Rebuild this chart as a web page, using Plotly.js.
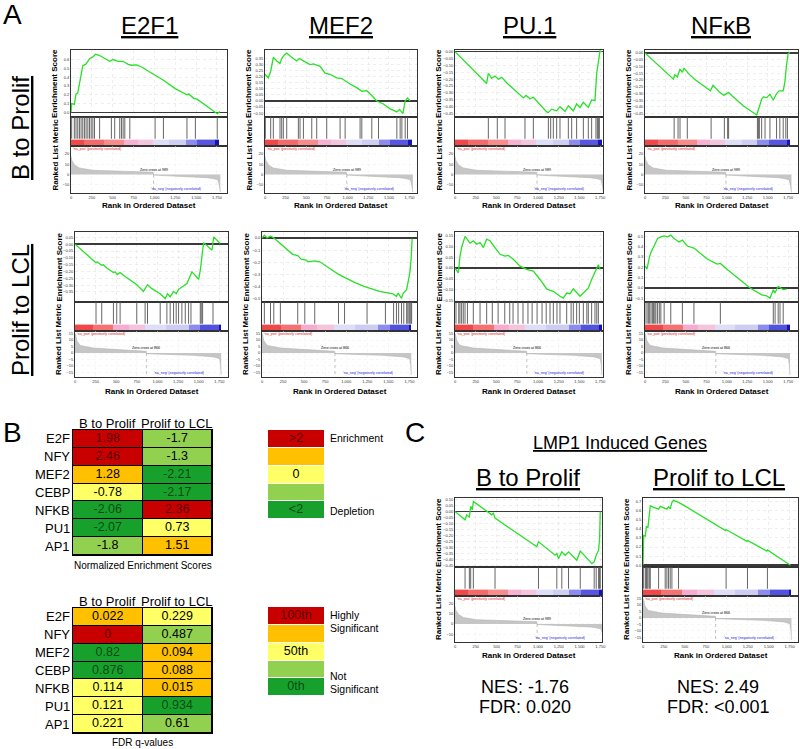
<!DOCTYPE html>
<html><head><meta charset="utf-8">
<script src="https://cdn.plot.ly/plotly-3.0.1.min.js"></script>
<style>html,body{margin:0;padding:0;background:#fff}#chart{width:800px;height:749px}</style>
</head><body><div id="chart"></div>
<script>
// ================= DATA =================
const rankTicks = [0, 250, 500, 750, 1000, 1250, 1500, 1750];

// Ranked list metric (B to Prolif list / Prolif to LCL list)
const metricBP_x = [0, 8, 40, 100, 262, 665, 985, 990, 1200, 1500, 1630, 1700, 1760, 1775, 1790];
const metricBP_y = [17.5, 14, 9.5, 6.3, 4.1, 2.9, 2.2, -0.5, -1.2, -2.0, -3.0, -3.8, -5, -9, -17];
const metricBP_ticks = [20, 10, 0, -10];
const zeroCrossBP = 989;
const metricPL_x = [0, 8, 20, 61, 223, 628, 864, 866, 1100, 1438, 1681, 1754, 1765, 1772];
const metricPL_y = [15, 14, 9.7, 5.9, 3.8, 2.0, 1.3, -0.5, -1.0, -1.8, -3.0, -4.4, -9, -17];
const metricPL_ticks = [15, 10, 5, 0, -5, -10, -15];
const zeroCrossPL = 866;

// Colour bar blocks of the ranked lists
const colorbarBP_edges = [0, 160, 400, 641, 800, 978, 1180, 1374, 1512, 1730, 1775];
const colorbarBP_colors = ['#f04848','#f46a6a','#f78c8c','#f6b2d2','#f4c6de','#dedef7','#cfcff4','#8c8cee','#5656e2','#1414b4'];
const colorbarPL_edges = [0, 220, 466, 650, 850, 1100, 1377, 1519, 1741, 1772];
const colorbarPL_colors = ['#f04848','#f57272','#f6acce','#f4c4dc','#dedef7','#cdcdf4','#8c8cee','#5252e0','#1414b4'];

// Running enrichment scores and hits
const es_E2F1_BP_x = [0,8,40,60,81,101,121,141,181,222,262,294,343,403,463,504,564,625,685,725,786,846,1008,1108,1249,1390,1410,1471,1511,1753,1785];
const es_E2F1_BP_y = [0,0.10,0.09,0.21,0.22,0.33,0.40,0.53,0.55,0.61,0.63,0.66,0.645,0.61,0.58,0.60,0.58,0.58,0.545,0.535,0.54,0.515,0.42,0.365,0.27,0.20,0.21,0.16,0.15,-0.015,0.01];
const hits_E2F1_BP = [8,40,60,81,101,121,141,161,181,202,222,242,262,282,343,484,524,584,605,625,645,705,1008,1108,1390,1491,1753];

const es_MEF2_BP_x = [0,40,69,101,141,182,202,234,263,303,384,416,465,545,586,667,727,788,869,929,1030,1111,1172,1232,1293,1353,1434,1515,1596,1628,1669,1697,1725,1757];
const es_MEF2_BP_y = [0.22,0.19,0.245,0.36,0.33,0.31,0.35,0.38,0.395,0.37,0.33,0.35,0.33,0.30,0.305,0.285,0.23,0.22,0.19,0.185,0.14,0.11,0.08,0.085,0.045,0.0,-0.025,-0.065,-0.09,-0.07,-0.105,0.0,0.025,0.0];
const hits_MEF2_BP = [4,69,101,182,202,222,263,404,424,465,566,626,747,909,970,1151,1172,1293,1374,1596,1636,1657,1697,1725];

const es_PU1_BP_x = [0,382,402,442,482,523,563,623,824,856,905,945,1106,1126,1166,1226,1266,1327,1367,1427,1467,1508,1548,1608,1648,1688,1709,1729,1749,1769];
const es_PU1_BP_y = [0,-0.231,-0.157,-0.194,-0.177,-0.201,-0.187,-0.226,-0.336,-0.318,-0.343,-0.331,-0.438,-0.443,-0.418,-0.43,-0.40,-0.435,-0.393,-0.43,-0.38,-0.405,-0.368,-0.405,-0.351,-0.356,-0.157,-0.057,0.005,0];
const hits_PU1_BP = [402,510,603,844,945,1126,1154,1186,1226,1266,1367,1407,1467,1548,1608,1648,1700,1717,1729,1741];

const es_NFKB_BP_x = [0,347,364,396,428,457,477,537,618,800,832,901,962,1022,1063,1204,1366,1386,1426,1446,1487,1527,1568,1608,1640,1689,1709,1729,1749,1770];
const es_NFKB_BP_y = [0,-0.194,-0.162,-0.177,-0.119,-0.144,-0.112,-0.157,-0.201,-0.281,-0.239,-0.286,-0.313,-0.294,-0.318,-0.393,-0.46,-0.425,-0.343,-0.326,-0.331,-0.306,-0.351,-0.301,-0.281,-0.281,-0.219,-0.095,-0.007,0.005];
const hits_NFKB_BP = [356,404,428,517,808,970,1010,1022,1374,1386,1398,1426,1467,1527,1608,1648,1689,1721,1741];

const es_E2F1_PL_x = [0,255,271,324,344,385,466,486,514,547,587,749,830,879,932,1033,1094,1122,1154,1195,1227,1256,1296,1357,1418,1499,1519,1559,1661,1681,1762];
const es_E2F1_PL_y = [0,-0.135,-0.13,-0.154,-0.15,-0.174,-0.208,-0.203,-0.223,-0.208,-0.228,-0.297,-0.346,-0.297,-0.326,-0.363,-0.40,-0.363,-0.387,-0.346,-0.363,-0.331,-0.314,-0.289,-0.203,-0.257,-0.191,0.012,-0.044,0.054,0.005];
const hits_E2F1_PL = [255,324,466,506,547,749,850,879,1033,1114,1154,1195,1227,1256,1296,1337,1377,1406,1519,1531,1547,1673];

const es_MEF2_PL_x = [0,28,61,101,141,364,424,465,525,545,626,687,848,909,1111,1212,1394,1555,1596,1616,1656,1677,1717,1735,1755,1770,1782];
const es_MEF2_PL_y = [0,0.023,0,0.017,0,-0.135,-0.146,-0.175,-0.183,-0.197,-0.189,-0.197,-0.273,-0.301,-0.372,-0.40,-0.442,-0.462,-0.485,-0.456,-0.499,-0.456,-0.428,-0.372,-0.287,-0.175,-0.006];
const hits_MEF2_PL = [28,101,140,218,424,508,626,908,980,1247,1465,1562,1596,1622,1656,1683,1717,1731,1745,1755,1767,1776];

const es_PU1_PL_x = [0,12,40,60,80,121,181,221,261,302,342,382,422,482,543,603,643,704,784,864,945,1025,1106,1146,1186,1266,1307,1347,1387,1427,1467,1508,1548,1608,1648,1688,1729,1749];
const es_PU1_PL_y = [0,-0.006,-0.022,0.055,0.094,0.145,0.114,0.125,0.109,0.117,0.094,0.132,0.125,0.094,0.063,0.055,0.058,0.04,0.009,-0.006,-0.014,-0.052,-0.095,-0.102,-0.106,-0.129,-0.137,-0.114,-0.117,-0.095,-0.114,-0.129,-0.114,-0.091,-0.052,-0.022,0.015,-0.006];
const hits_PU1_PL = [12,45,60,80,100,121,150,221,302,382,450,520,600,660,700,760,820,880,930,990,1050,1100,1146,1186,1230,1266,1347,1400,1427,1467,1500,1548,1590,1608,1648,1688,1710,1729];

const es_NFKB_PL_x = [0,24,53,73,105,133,154,194,234,275,315,356,416,457,517,598,659,760,881,921,1002,1164,1285,1426,1487,1527,1568,1588,1628,1689,1729];
const es_NFKB_PL_y = [0.214,0.181,0.296,0.345,0.395,0.444,0.477,0.493,0.503,0.493,0.51,0.477,0.444,0.461,0.405,0.385,0.345,0.28,0.23,0.237,0.181,0.082,0,-0.066,-0.076,-0.099,-0.016,-0.049,0.016,-0.016,-0.01];
const hits_NFKB_PL = [0,24,40,53,73,90,105,120,133,154,175,194,234,315,457,598,921,1568,1590,1628,1650,1689];

const es_LMP1_BP_x = [0,121,141,173,189,209,221,442,462,482,985,1005,1206,1226,1246,1286,1327,1367,1467,1508,1648,1676,1700,1729,1741,1749];
const es_LMP1_BP_y = [0,-0.07,-0.028,-0.048,0.042,0.014,0.084,-0.028,-0.014,-0.056,-0.295,-0.253,-0.365,-0.351,-0.393,-0.337,-0.365,-0.337,-0.407,-0.329,-0.435,-0.421,-0.365,-0.323,-0.225,0];
const hits_LMP1_BP = [121,173,189,221,482,1005,1226,1286,1367,1508,1676,1700,1729,1741,1749];

const es_LMP1_PL_x = [0,8,28,40,59,75,87,127,186,206,265,285,305,325,345,364,424,483,985,992,1240,1247,1478,1485,1760];
const es_LMP1_PL_y = [0,0.327,0.32,0.423,0.415,0.596,0.654,0.635,0.615,0.646,0.623,0.615,0.642,0.62,0.69,0.712,0.69,0.66,0.38,0.392,0.262,0.272,0.155,0.167,0];
const hits_LMP1_PL = [8,28,40,48,59,75,87,186,265,285,305,325,345,424,992,1247,1485];

// Panel A / C texts
const factorTitles = ['E2F1', 'MEF2', 'PU.1', 'NFκB'];
const rowTitles = ['B to Prolif', 'Prolif to LCL'];
const lmp1Title = 'LMP1 Induced Genes';
const lmp1NES = ['-1.76', '2.49'];
const lmp1FDR = ['0.020', '<0.001'];

// Panel B tables
const factors = ['E2F', 'NFY', 'MEF2', 'CEBP', 'NFKB', 'PU1', 'AP1'];
const comparisons = ['B to Prolif', 'Prolif to LCL'];
const nes_BP = [1.98, 2.46, 1.28, -0.78, -2.06, -2.07, -1.8];
const nes_PL = [-1.7, -1.3, -2.21, -2.17, 2.36, 0.73, 1.51];
const fdr_BP = [0.022, 0, 0.82, 0.876, 0.114, 0.121, 0.221];
const fdr_PL = [0.229, 0.487, 0.094, 0.088, 0.015, 0.934, 0.61];
const levelColors = ['#c80000', '#ffc000', '#ffff66', '#92d050', '#17a02c'];
const nesBreaks = [1.9, 1.0, -1.0, -1.9];       // red | orange | yellow | light green | dark green
const fdrBreaks = [0.005, 0.1, 0.25, 0.75];
const nesLegendLabels = ['>2', '', '0', '', '<2'];
const fdrLegendLabels = ['100th', '', '50th', '', '0th'];

// ================= LAYOUT HELPERS =================
const FONT = 'Liberation Sans, Arial, Helvetica, sans-serif';
const W = 800, H = 749;
const PX = p => p / W;
const PY = p => 1 - p / H;
const GRID = '#e2e2e2';

const layout = {
  width: W, height: H, margin: {l: 0, r: 0, t: 0, b: 0},
  paper_bgcolor: '#fff', plot_bgcolor: '#fff', showlegend: false,
  font: {family: FONT, color: '#000'},
  annotations: [], shapes: []
};
const data = [];
let axN = 0;
const baseAx = {showline: true, mirror: true, linecolor: '#333', linewidth: 1, ticks: '', showgrid: false,
  zeroline: false, fixedrange: true, tickfont: {family: FONT, size: 4, color: '#333'}};
function addAxes(xpx, ypx, xo, yo) {
  axN++;
  const xn = axN === 1 ? 'x' : 'x' + axN, yn = axN === 1 ? 'y' : 'y' + axN;
  layout[axN === 1 ? 'xaxis' : 'xaxis' + axN] = Object.assign({}, baseAx, {domain: [PX(xpx[0]), PX(xpx[1])], anchor: yn}, xo);
  layout[axN === 1 ? 'yaxis' : 'yaxis' + axN] = Object.assign({}, baseAx, {domain: [PY(ypx[1]), PY(ypx[0])], anchor: xn}, yo);
  return [xn, yn];
}
function note(x, y, text, size, o) {
  o = o || {};
  layout.annotations.push({
    xref: 'paper', yref: 'paper', x: PX(x), y: PY(y), text: text, showarrow: false,
    font: {family: FONT, size: size, color: o.color || '#000'},
    xanchor: o.xanchor || 'center', yanchor: o.yanchor || 'middle', textangle: o.angle || 0
  });
}
function discreteScale(colors) {
  const n = colors.length, s = [];
  colors.forEach((c, i) => { s.push([i / n, c]); s.push([(i + 1) / n, c]); });
  return s;
}

// ================= GSEA PANELS =================
const ROWS = {
  r1: {es: [50, 117], hits: [117, 146], met: [146, 193], rankTitle: 206},
  r2: {es: [232, 302], hits: [302, 331], met: [331, 377], rankTitle: 391},
  c:  {es: [498, 567], hits: [567, 596], met: [596, 642], rankTitle: 655}
};
const rankedLists = {
  BP: {x: metricBP_x, y: metricBP_y, ticks: metricBP_ticks, yr: [-17.7, 27.4], zero: zeroCrossBP, edges: colorbarBP_edges, colors: colorbarBP_colors},
  PL: {x: metricPL_x, y: metricPL_y, ticks: metricPL_ticks, yr: [-18.5, 17], zero: zeroCrossPL, edges: colorbarPL_edges, colors: colorbarPL_colors}
};
const panels = [
  {x: es_E2F1_BP_x, y: es_E2F1_BP_y, hits: hits_E2F1_BP, list: 'BP', row: 'r1', box: [71, 227], xMax: 1870, yr: [-0.052, 0.708], tk: [0, 0.6], dt: 0.1, fmt: '.1f'},
  {x: es_MEF2_BP_x, y: es_MEF2_BP_y, hits: hits_MEF2_BP, list: 'BP', row: 'r1', box: [265, 417], xMax: 1840, yr: [-0.132, 0.42], tk: [-0.1, 0.35], dt: 0.05, fmt: '.2f'},
  {x: es_PU1_BP_x, y: es_PU1_BP_y, hits: hits_PU1_BP, list: 'BP', row: 'r1', box: [455, 603], xMax: 1785, yr: [-0.475, 0.012], tk: [-0.45, 0], dt: 0.05, fmt: '.2f'},
  {x: es_NFKB_BP_x, y: es_NFKB_BP_y, hits: hits_NFKB_BP, list: 'BP', row: 'r1', box: [645, 798], xMax: 1870, yr: [-0.475, 0.022], tk: [-0.45, 0], dt: 0.05, fmt: '.2f'},
  {x: es_E2F1_PL_x, y: es_E2F1_PL_y, hits: hits_E2F1_PL, list: 'PL', row: 'r2', box: [75, 228], xMax: 1855, yr: [-0.424, 0.09], tk: [-0.35, 0.05], dt: 0.05, fmt: '.2f'},
  {x: es_MEF2_PL_x, y: es_MEF2_PL_y, hits: hits_MEF2_PL, list: 'PL', row: 'r2', box: [262, 417], xMax: 1840, yr: [-0.53, 0.05], tk: [-0.5, 0], dt: 0.1, fmt: '.1f'},
  {x: es_PU1_PL_x, y: es_PU1_PL_y, hits: hits_PU1_PL, list: 'PL', row: 'r2', box: [455, 603], xMax: 1785, yr: [-0.155, 0.165], tk: [-0.15, 0.15], dt: 0.05, fmt: '.2f'},
  {x: es_NFKB_PL_x, y: es_NFKB_PL_y, hits: hits_NFKB_PL, list: 'PL', row: 'r2', box: [645, 798], xMax: 1870, yr: [-0.135, 0.54], tk: [-0.1, 0.5], dt: 0.1, fmt: '.1f'},
  {x: es_LMP1_BP_x, y: es_LMP1_BP_y, hits: hits_LMP1_BP, list: 'BP', row: 'c', box: [455, 602], xMax: 1770, yr: [-0.463, 0.112], tk: [-0.45, 0.1], dt: 0.05, fmt: '.2f'},
  {x: es_LMP1_PL_x, y: es_LMP1_PL_y, hits: hits_LMP1_PL, list: 'PL', row: 'c', box: [643, 798], xMax: 1850, yr: [-0.019, 0.738], tk: [0, 0.7], dt: 0.1, fmt: '.1f'}
];

panels.forEach(p => {
  const R = ROWS[p.row], L = rankedLists[p.list];
  const xr = [0, p.xMax];
  const esTicks = [];
  for (let v = p.tk[0]; v <= p.tk[1] + 1e-9; v += p.dt) esTicks.push(Math.round(v * 1000) / 1000);

  // running enrichment score
  const [xe, ye] = addAxes(p.box, R.es,
    {range: xr, tickvals: rankTicks, showticklabels: false, showgrid: true, gridcolor: GRID, griddash: 'dot', gridwidth: 0.6},
    {range: p.yr, tickvals: esTicks, tickformat: p.fmt, showgrid: true, gridcolor: GRID, griddash: 'dot', gridwidth: 0.6,
     zeroline: true, zerolinecolor: '#3a3a3a', zerolinewidth: 1.6});
  data.push({type: 'scatter', mode: 'lines', x: p.x, y: p.y, xaxis: xe, yaxis: ye,
    line: {color: '#27e027', width: 1.3}, hoverinfo: 'skip'});

  // hits + colour bar
  const [xh, yh] = addAxes(p.box, R.hits, {range: xr, showticklabels: false}, {range: [0, 1], showticklabels: false});
  const n = L.colors.length;
  data.push({type: 'heatmap', x: L.edges, y: [0, 0.22], z: [L.colors.map((c, i) => i)], zmin: -0.5, zmax: n - 0.5,
    colorscale: discreteScale(L.colors), showscale: false, xaxis: xh, yaxis: yh, hoverinfo: 'skip'});
  const hx = [], hy = [];
  p.hits.forEach(h => { hx.push(h, h, null); hy.push(0.25, 1, null); });
  data.push({type: 'scatter', mode: 'lines', x: hx, y: hy, xaxis: xh, yaxis: yh,
    line: {color: '#555', width: 0.9}, hoverinfo: 'skip'});

  // ranked list metric
  const [xm, ym] = addAxes(p.box, R.met,
    {range: xr, tickvals: rankTicks, tickformat: ',d', showgrid: true, gridcolor: '#eeeeee', griddash: 'dot', gridwidth: 0.5},
    {range: L.yr, tickvals: L.ticks, showgrid: true, gridcolor: '#eeeeee', griddash: 'dot', gridwidth: 0.5});
  data.push({type: 'scatter', mode: 'lines', x: L.x, y: L.y, xaxis: xm, yaxis: ym, fill: 'tozeroy',
    fillcolor: '#c6c6c6', line: {color: '#b4b4b4', width: 0.6}, hoverinfo: 'skip'});
  data.push({type: 'scatter', mode: 'lines', x: [L.zero, L.zero], y: [0, L.yr[0]], xaxis: xm, yaxis: ym,
    line: {color: '#9a9a9a', width: 0.6, dash: 'dot'}, hoverinfo: 'skip'});
  const small = {family: FONT, size: 3.6};
  layout.annotations.push(
    {xref: xm, yref: ym + ' domain', x: 15, y: 0.99, xanchor: 'left', yanchor: 'top', showarrow: false,
     text: "'na_pos' (positively correlated)", font: Object.assign({}, small, {color: '#e02020'}), borderpad: 0},
    {xref: xm, yref: ym, x: L.zero, y: 0, xanchor: 'center', yanchor: 'bottom', yshift: 2, showarrow: false,
     text: 'Zero cross at ' + L.zero, font: Object.assign({}, small, {color: '#000'}), borderpad: 0},
    {xref: xm, yref: ym + ' domain', x: 1260, y: 0.02, xanchor: 'center', yanchor: 'bottom', showarrow: false,
     text: "'na_neg' (negatively correlated)", font: Object.assign({}, small, {color: '#2020e0'}), borderpad: 0}
  );

  // axis labels
  const lx = p.box[0] - 16.5;
  note(lx, (R.es[0] + R.es[1]) / 2, '<b>Enrichment Score</b>', 8, {angle: -90});
  note(lx, (R.hits[0] + R.met[1]) / 2, '<b>Ranked List Metric</b>', 8, {angle: -90});
  note((p.box[0] + p.box[1]) / 2, R.rankTitle, '<b>Rank in Ordered Dataset</b>', 8);
});

// ================= PANEL A / C TEXT =================
note(12, 14, 'A', 28);
note(12, 432, 'B', 28);
note(415, 432, 'C', 28);
[149, 341, 529, 721].forEach((cx, i) => note(cx, 26, '<u>' + factorTitles[i] + '</u>', 24));
note(20, 128, '<u>' + rowTitles[0] + '</u>', 24, {angle: -90});
note(20, 310, '<u>' + rowTitles[1] + '</u>', 24, {angle: -90});
note(620, 443, '<u>' + lmp1Title + '</u>', 18);
note(528, 477, '<u>' + rowTitles[0] + '</u>', 24);
note(719, 477, '<u>' + rowTitles[1] + '</u>', 24);
[525, 718].forEach((cx, i) => {
  note(cx, 687, 'NES: ' + lmp1NES[i], 18);
  note(cx, 707, 'FDR: ' + lmp1FDR[i], 18);
});

// ================= PANEL B TABLES =================
function levelOf(v, breaks, descending) {
  for (let k = 0; k < breaks.length; k++) {
    if (descending ? v >= breaks[k] : v < breaks[k]) return k;
  }
  return breaks.length;
}
function thresholdScale(breaks, zmin, zmax, colorsLowToHigh) {
  const s = []; let prev = 0;
  const cuts = breaks.map(b => (b - zmin) / (zmax - zmin)).concat([1]);
  colorsLowToHigh.forEach((c, i) => { s.push([prev, c]); s.push([cuts[i], c]); prev = cuts[i]; });
  return s;
}
const rowH = 17.85;
function addTable(colA, colB, top, scale, zmin, zmax, levelFn, caption, captionY) {
  const bottom = top + rowH * factors.length;
  const [xt, yt] = addAxes([73, 212], [top, bottom],
    {range: [-0.5, 1.5], showticklabels: false, linecolor: '#000'},
    {range: [factors.length - 0.5, -0.5], showticklabels: false, linecolor: '#000'});
  layout.shapes.push({type: 'rect', xref: xt + ' domain', yref: yt + ' domain', x0: 0, x1: 1, y0: 0, y1: 1,
    fillcolor: '#000', line: {width: 0}, layer: 'below'});
  data.push({type: 'heatmap', x: [0, 1], y: factors.map((f, i) => i), z: factors.map((f, i) => [colA[i], colB[i]]),
    zmin: zmin, zmax: zmax, colorscale: scale, showscale: false, xgap: 1, ygap: 1, xaxis: xt, yaxis: yt, hoverinfo: 'skip'});
  const tx = [], ty = [], tt = [], tc = [];
  [colA, colB].forEach((col, j) => col.forEach((v, i) => {
    tx.push(j); ty.push(i); tt.push(String(v));
    const lv = levelFn(v);
    tc.push(lv === 0 || lv === 4 ? 'rgba(0,0,0,0.58)' : '#000');
  }));
  data.push({type: 'scatter', mode: 'text', x: tx, y: ty, text: tt, textposition: 'middle center',
    textfont: {family: FONT, size: 12.5, color: tc}, xaxis: xt, yaxis: yt, hoverinfo: 'skip', cliponaxis: false});
  note(107, top - 7, comparisons[0], 13);
  note(176.5, top - 7, comparisons[1], 13);
  factors.forEach((f, i) => note(72, top + rowH * (i + 0.5), f, 13, {xanchor: 'right'}));
  note(142.5, captionY, caption, 10);
}
const nesLevel = v => levelOf(v, nesBreaks, true);
const fdrLevel = v => levelOf(v, fdrBreaks, false);
const nesScale = thresholdScale(nesBreaks.slice().reverse(), -3, 3, levelColors.slice().reverse());
const fdrScale = thresholdScale(fdrBreaks, 0, 1, levelColors);
addTable(nes_BP, nes_PL, 430, nesScale, -3, 3, nesLevel, 'Normalized Enrichment Scores', 565);
addTable(fdr_BP, fdr_PL, 608, fdrScale, 0, 1, fdrLevel, 'FDR q-values', 742);

// legends
function addLegend(top, labels) {
  const bottom = top + rowH * levelColors.length;
  const [xl, yl] = addAxes([268, 324], [top, bottom],
    {range: [-0.5, 0.5], showticklabels: false, showline: false},
    {range: [levelColors.length - 0.5, -0.5], showticklabels: false, showline: false});
  data.push({type: 'heatmap', x: [0], y: levelColors.map((c, i) => i), z: levelColors.map((c, i) => [i]),
    zmin: -0.5, zmax: levelColors.length - 0.5, colorscale: discreteScale(levelColors), showscale: false,
    ygap: 1, xaxis: xl, yaxis: yl, hoverinfo: 'skip'});
  data.push({type: 'scatter', mode: 'text', x: labels.map(() => 0), y: labels.map((l, i) => i), text: labels,
    textfont: {family: FONT, size: 12.5, color: labels.map((l, i) => (i === 0 || i === 4) ? 'rgba(0,0,0,0.58)' : '#000')},
    xaxis: xl, yaxis: yl, hoverinfo: 'skip', cliponaxis: false});
}
addLegend(430, nesLegendLabels);
addLegend(607, fdrLegendLabels);
note(328, 438, 'Enrichment', 10.5, {xanchor: 'left'});
note(328, 511, 'Depletion', 10.5, {xanchor: 'left'});
note(328, 615, 'Highly', 10.5, {xanchor: 'left'});
note(328, 628, 'Significant', 10.5, {xanchor: 'left'});
note(328, 676, 'Not', 10.5, {xanchor: 'left'});
note(328, 689, 'Significant', 10.5, {xanchor: 'left'});

Plotly.newPlot('chart', data, layout, {staticPlot: true, displayModeBar: false});
</script>
</body></html>
